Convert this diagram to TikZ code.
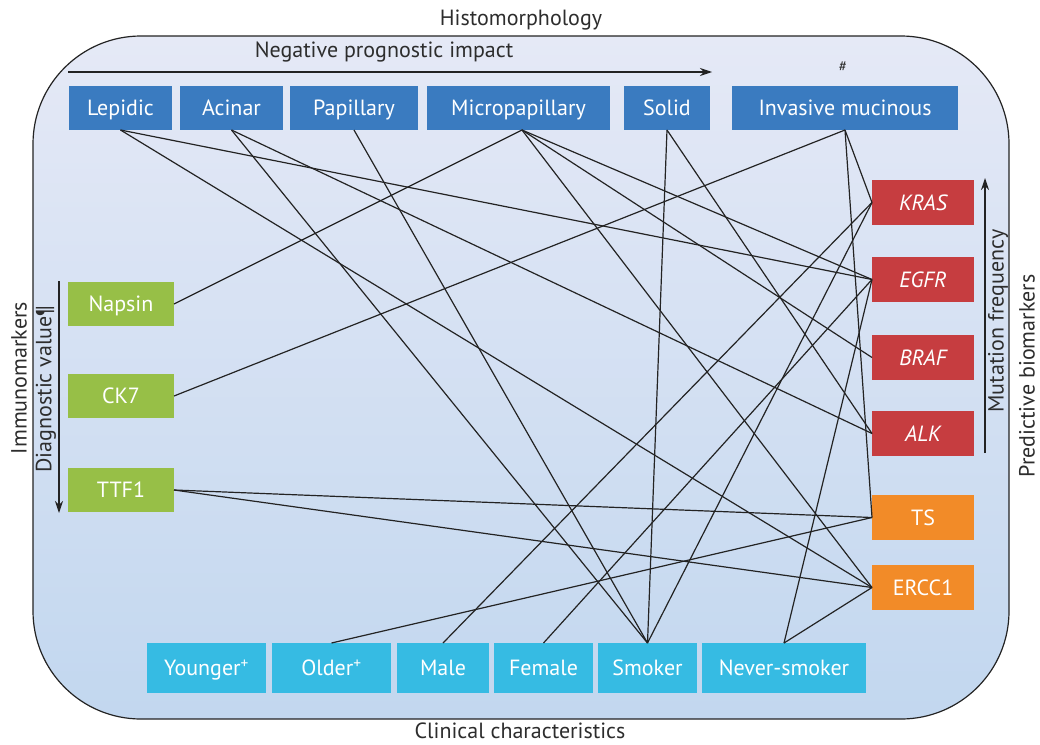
\documentclass[tikz,border=0pt]{standalone}
\usepackage{fontspec}
\setmainfont{PT Sans}
\usetikzlibrary{arrows.meta}
\definecolor{cblue}{RGB}{58,123,192}
\definecolor{cgreen}{RGB}{151,191,71}
\definecolor{cred}{RGB}{198,61,64}
\definecolor{corange}{RGB}{242,139,40}
\definecolor{ccyan}{RGB}{54,187,227}
\definecolor{linec}{RGB}{35,35,35}
\definecolor{labc}{RGB}{45,45,45}
\definecolor{bgtop}{RGB}{229,233,246}
\definecolor{bgbot}{RGB}{194,215,239}
\begin{document}
\begin{tikzpicture}[x=1pt,y=-1pt,
  box/.style={inner sep=0pt, outer sep=0pt, text=white, font=\fontsize{22}{26}\selectfont, text height=15.4pt, text depth=0pt},
  topbox/.style={box, fill=cblue, minimum height=44pt},
  leftbox/.style={box, fill=cgreen, minimum height=44pt, minimum width=106pt},
  redbox/.style={box, fill=cred, minimum height=45pt, minimum width=102pt},
  orbox/.style={box, fill=corange, minimum height=45pt, minimum width=102pt},
  botbox/.style={box, fill=ccyan, minimum height=50pt},
  link/.style={draw=linec, line width=1.2pt},
  lab/.style={text=labc, inner sep=0pt, font=\fontsize{22}{26}\selectfont},
  arr/.style={draw=linec, line width=1.2pt, -{Stealth[length=12pt,width=8pt]}}
]
\useasboundingbox (0,0) rectangle (1040,744);
% background panel
\path[top color=bgtop, bottom color=bgbot, draw=linec, line width=1.2pt, rounded corners=108pt]
  (33,36) rectangle (1009,719);

% outside labels
\node[lab] (histo) at (521,20) {Histomorphology};
\node[lab] (clin) at (520,731) {Clinical characteristics};
\node[lab, rotate=90] (immuno) at (19,378) {Immunomarkers};
\node[lab, rotate=90] (pred) at (1027,376) {Predictive biomarkers};

% arrows with labels
\coordinate (npA) at (68,72);
\coordinate (npB) at (712,72);
\draw[arr] (npA) -- (npB);
\node[lab] (negprog) at (384,52) {Negative prognostic impact};
\node[lab, font=\fontsize{15}{18}\selectfont] (hash) at (843,67) {\#};

\coordinate (dvA) at (59,281);
\coordinate (dvB) at (59,513);
\draw[arr] (dvA) -- (dvB);
\node[lab, rotate=90] (diag) at (46,389) {Diagnostic value¶};

\coordinate (mfA) at (985,453);
\coordinate (mfB) at (985,178);
\draw[arr] (mfA) -- (mfB);
\node[lab, rotate=90] (mutf) at (998,321) {Mutation frequency};

% top boxes
\node[topbox, minimum width=103pt] (lep) at (120.5,108) {Lepidic};
\node[topbox, minimum width=103pt] (aci) at (231.5,108) {Acinar};
\node[topbox, minimum width=128pt] (pap) at (354,108) {Papillary};
\node[topbox, minimum width=183pt] (mic) at (518.5,108) {Micropapillary};
\node[topbox, minimum width=86pt] (sol) at (667,108) {Solid};
\node[topbox, minimum width=226pt] (inv) at (845,108) {Invasive mucinous};

% left boxes
\node[leftbox] (nap) at (121,304) {Napsin};
\node[leftbox] (ck7) at (121,396) {CK7};
\node[leftbox] (ttf) at (121,490) {TTF1};

% right boxes
\node[redbox] (kras) at (923,202.5) {\itshape KRAS};
\node[redbox] (egfr) at (923,279.5) {\itshape EGFR};
\node[redbox] (braf) at (923,357.5) {\itshape BRAF};
\node[redbox] (alk) at (923,433.5) {\itshape ALK};
\node[orbox] (ts) at (923,517.5) {TS};
\node[orbox] (ercc) at (923,587.5) {ERCC1};

% bottom boxes
\node[botbox, minimum width=119pt] (you) at (206.5,668) {Younger\textsuperscript{+}};
\node[botbox, minimum width=119pt] (old) at (331.5,668) {Older\textsuperscript{+}};
\node[botbox, minimum width=92pt] (male) at (443,668) {Male};
\node[botbox, minimum width=99pt] (fem) at (543.5,668) {Female};
\node[botbox, minimum width=99pt] (smo) at (647.5,668) {Smoker};
\node[botbox, minimum width=164pt] (nev) at (784,668) {Never-smoker};

% connectors
\draw[link] (lep.south) -- (egfr.west);
\draw[link] (lep.south) -- (ercc.west);
\draw[link] (aci.south) -- (smo.north);
\draw[link] (aci.south) -- (alk.west);
\draw[link] (pap.south) -- (smo.north);
\draw[link] ([xshift=3.5pt]mic.south) -- (nap.east);
\draw[link] ([xshift=3.5pt]mic.south) -- (egfr.west);
\draw[link] ([xshift=3.5pt]mic.south) -- (braf.west);
\draw[link] ([xshift=3.5pt]mic.south) -- (ercc.west);
\draw[link] (sol.south) -- (smo.north);
\draw[link] (sol.south) -- (alk.west);
\draw[link] (inv.south) -- (ck7.east);
\draw[link] (inv.south) -- (kras.west);
\draw[link] (inv.south) -- (ts.west);
\draw[link] (ttf.east) -- (ts.west);
\draw[link] (ttf.east) -- (ercc.west);
\draw[link] (old.north) -- (ts.west);
\draw[link] (male.north) -- (kras.west);
\draw[link] (fem.north) -- (egfr.west);
\draw[link] (smo.north) -- (kras.west);
\draw[link] (nev.north) -- (egfr.west);
\draw[link] (nev.north) -- (ercc.west);
\end{tikzpicture}
\end{document}
